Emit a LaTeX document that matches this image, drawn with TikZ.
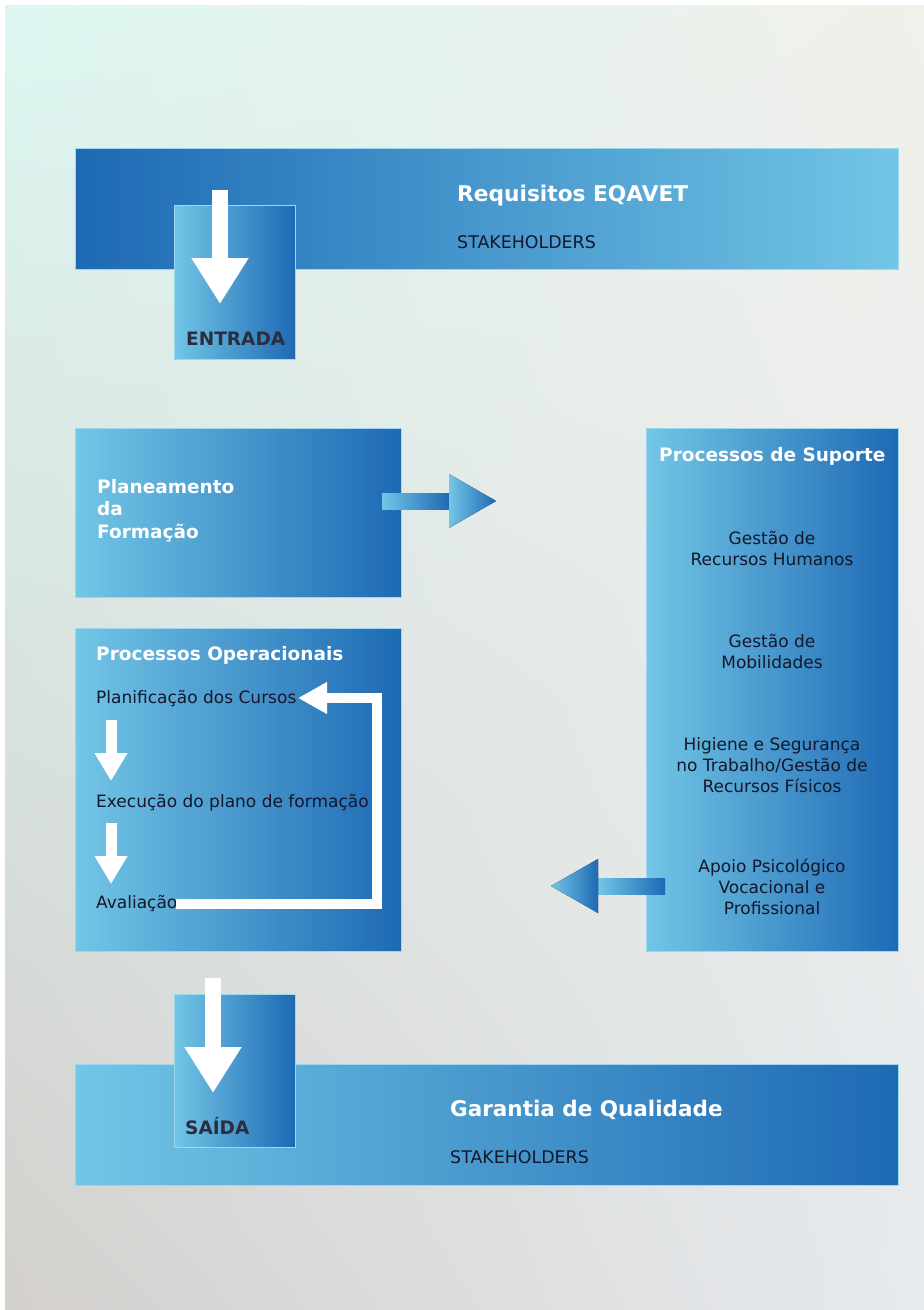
\documentclass[tikz,border=0pt]{standalone}
\usepackage{fontspec}
\setmainfont{DejaVu Sans}
\usetikzlibrary{arrows.meta,shadings}
\definecolor{dkblue}{HTML}{1E69B4}
\definecolor{ltblue}{HTML}{72C6E6}
\definecolor{txtdark}{HTML}{15172A}
\definecolor{bgtl}{HTML}{DDF6F1}
\definecolor{bgtr}{HTML}{F1F0EB}
\definecolor{bgbl}{HTML}{D3D0CD}
\definecolor{bgbr}{HTML}{E6EAEE}
\begin{document}
\begin{tikzpicture}[x=1pt,y=-1pt,
  boxlr/.style={anchor=north west, inner sep=0pt, left color=ltblue, right color=dkblue, draw=ltblue!70, line width=0.6pt},
  boxrl/.style={anchor=north west, inner sep=0pt, left color=dkblue, right color=ltblue, draw=ltblue!70, line width=0.6pt},
  whitebold/.style={text=white, font=\bfseries\fontsize{18.5}{22.5}\selectfont, inner sep=0pt},
  bodytxt/.style={text=txtdark, font=\fontsize{17}{21}\selectfont, inner sep=0pt},
  labeltxt/.style={text=txtdark!90, inner sep=0pt, font=\bfseries\fontsize{18.5}{22}\selectfont},
  stktxt/.style={text=txtdark, inner sep=0pt, font=\fontsize{17.4}{20}\selectfont},
  bigdown/.style={draw=white, line width=16pt, -{Triangle[width=54pt,length=46pt]}},
  smalldown/.style={draw=white, line width=11pt, -{Triangle[width=31pt,length=28pt]}},
  loopline/.style={draw=white, line width=10pt, -{Triangle[width=30pt,length=29pt]}},
  gradarrow/.style={left color=ltblue, right color=dkblue, draw=none}
]
\useasboundingbox (0,0) rectangle (924,1310);
\fill[white] (0,0) rectangle (924,1310);
\shade[upper left=bgtl, upper right=bgtr, lower left=bgbl, lower right=bgbr] (5,5) rectangle (924,1310);

% top bar
\node[boxrl, minimum width=823pt, minimum height=121pt] (topbar) at (75,148) {};
\node[anchor=base west, text=white, inner sep=0pt, font=\bfseries\fontsize{21.7}{26}\selectfont] (req) at (457,201) {Requisitos EQAVET};
\node[stktxt, anchor=base west] (stk1) at (457,248) {STAKEHOLDERS};

% entrada
\node[boxlr, minimum width=121pt, minimum height=154pt] (entbox) at (174,205) {};
\coordinate (entA) at (220,190);
\coordinate (entB) at (220,304);
\draw[bigdown] (entA) -- (entB);
\node[labeltxt, anchor=base west] (ent) at (186,345) {ENTRADA};

% planeamento
\node[boxlr, minimum width=326pt, minimum height=169pt] (planbox) at (75,428) {};
\node[whitebold, anchor=base west, align=left] (plantxt) at (97,538) {Planeamento\\da\\Formação};

% right gradient arrow
\fill[gradarrow] (382,493) rectangle (449,509);
\fill[gradarrow] (449,474) -- (496,501) -- (449,528) -- cycle;

% processos operacionais
\node[boxlr, minimum width=326pt, minimum height=323pt] (opbox) at (75,628) {};
\node[whitebold, anchor=base west] (optitle) at (96,660) {Processos Operacionais};
\node[bodytxt, anchor=base west] (plan) at (96,703) {Planificação dos Cursos};
\node[bodytxt, anchor=base west] (exec) at (96,807) {Execução do plano de formação};
\node[bodytxt, anchor=base west] (aval) at (96,908) {Avaliação};
\coordinate (d1a) at (111,720);
\coordinate (d1b) at (111,781);
\coordinate (d2a) at (111,823);
\coordinate (d2b) at (111,884);
\draw[smalldown] (d1a) -- (d1b);
\draw[smalldown] (d2a) -- (d2b);
\coordinate (lp1) at (176,904);
\coordinate (lp2) at (377,904);
\coordinate (lp3) at (377,698);
\coordinate (lp4) at (298,698);
\draw[loopline] (lp1) -- (lp2) -- (lp3) -- (lp4);

% processos de suporte
\node[boxlr, minimum width=252pt, minimum height=523pt] (supbox) at (646,428) {};
\node[whitebold, anchor=base west] (suptitle) at (659,461) {Processos de Suporte};
\node[bodytxt, anchor=base, align=center] (s1) at (772,565) {Gestão de\\Recursos Humanos};
\node[bodytxt, anchor=base, align=center] (s2) at (772,668) {Gestão de\\Mobilidades};
\node[bodytxt, anchor=base, align=center] (s3) at (772,792) {Higiene e Segurança\\no Trabalho/Gestão de\\Recursos Físicos};
\node[bodytxt, anchor=base, align=center] (s4) at (772,914) {Apoio Psicológico\\Vocacional e\\Profissional};

% left gradient arrow
\fill[gradarrow] (598,878) rectangle (665,894);
\fill[gradarrow] (598,859) -- (551,886) -- (598,913) -- cycle;

% garantia bar
\node[boxlr, minimum width=823pt, minimum height=121pt] (botbar) at (75,1064) {};
\node[boxlr, minimum width=121pt, minimum height=153pt] (saibox) at (174,994) {};
\coordinate (saiA) at (213,978);
\coordinate (saiB) at (213,1093);
\draw[bigdown] (saiA) -- (saiB);
\node[labeltxt, anchor=base west] (sai) at (185,1134) {SAÍDA};
\node[anchor=base west, text=white, inner sep=0pt, font=\bfseries\fontsize{21.5}{25}\selectfont] (gar) at (450,1116) {Garantia de Qualidade};
\node[stktxt, anchor=base west] (stk2) at (450,1163) {STAKEHOLDERS};
\end{tikzpicture}
\end{document}
